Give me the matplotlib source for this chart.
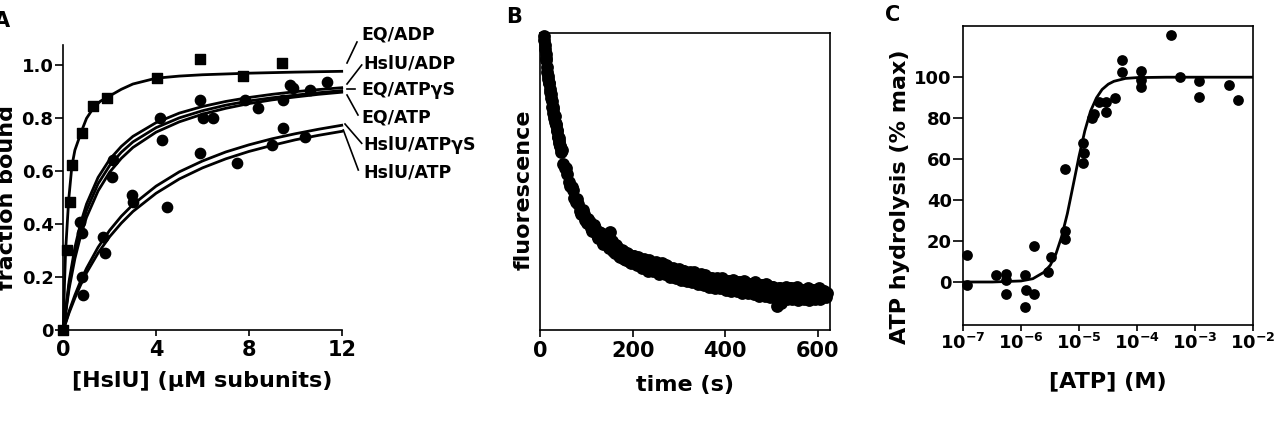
import matplotlib
matplotlib.use("Agg")
import matplotlib.pyplot as plt
from matplotlib.lines import Line2D

plt.rcParams['font.family'] = ['DejaVu Sans']
plt.rcParams['font.weight'] = 'bold'
plt.rcParams['mathtext.fontset'] = 'custom'
plt.rcParams['mathtext.rm'] = 'DejaVu Sans:bold'
plt.rcParams['mathtext.default'] = 'rm'

# ---------------- Panel A data ----------------
a_xticks = [0, 4, 8, 12]
a_yticks = [0, 0.2, 0.4, 0.6, 0.8, 1.0]
a_yticklabels = ['0', '0.2', '0.4', '0.6', '0.8', '1.0']

# fitted curves
fit_top_x = [0, 0.05, 0.1, 0.23, 0.37, 0.5, 0.8, 1.0, 1.3, 1.6, 1.9, 2.5, 3.0, 4.0, 5.0, 6.0, 8.0, 10.0, 12.0]
fit_eq_adp = [0, 0.17, 0.30, 0.49, 0.62, 0.68, 0.755, 0.80, 0.84, 0.865, 0.88, 0.91, 0.93, 0.952, 0.96, 0.965, 0.971, 0.975, 0.978]

fit_x = [0, 0.25, 0.5, 0.75, 1, 1.5, 2, 2.5, 3, 4, 5, 6, 7, 8, 9, 10, 11, 12]
fit_hslu_adp = [0, 0.185, 0.3125, 0.405, 0.476, 0.577, 0.645, 0.694, 0.732, 0.784, 0.82, 0.845, 0.864, 0.879, 0.891, 0.901, 0.909, 0.916]
fit_eq_atpgs = [0, 0.171, 0.293, 0.383, 0.452, 0.553, 0.622, 0.672, 0.711, 0.765, 0.802, 0.829, 0.850, 0.866, 0.878, 0.888, 0.897, 0.905]
fit_eq_atp = [0, 0.156, 0.27, 0.357, 0.426, 0.526, 0.597, 0.649, 0.69, 0.748, 0.787, 0.816, 0.838, 0.856, 0.87, 0.881, 0.891, 0.899]
fit_hslu_atpgs = [0, 0.071, 0.132, 0.186, 0.233, 0.313, 0.377, 0.430, 0.474, 0.544, 0.598, 0.639, 0.673, 0.700, 0.723, 0.742, 0.759, 0.774]
fit_hslu_atp = [0, 0.065, 0.121, 0.171, 0.216, 0.291, 0.353, 0.404, 0.448, 0.517, 0.571, 0.613, 0.647, 0.675, 0.698, 0.719, 0.736, 0.751]

# measured points
pts_top_x = [0, 0.14, 0.29, 0.36, 0.79, 1.29, 1.87, 4.02, 5.89, 7.76, 9.41]
pts_top_y = [0, 0.302, 0.485, 0.624, 0.744, 0.847, 0.878, 0.954, 1.023, 0.96, 1.008]
pts_mid_x = [0.72, 0.79, 2.08, 2.16, 4.17, 4.24, 5.89, 6.03, 6.47, 7.83, 8.41, 9.48, 9.77, 9.91, 10.63, 11.35]
pts_mid_y = [0.41, 0.365, 0.58, 0.643, 0.80, 0.718, 0.87, 0.80, 0.80, 0.87, 0.838, 0.87, 0.926, 0.914, 0.907, 0.939]
pts_low_x = [0.79, 0.86, 1.72, 1.80, 2.95, 3.02, 4.45, 5.89, 7.47, 8.98, 9.48, 10.42]
pts_low_y = [0.20, 0.132, 0.353, 0.29, 0.51, 0.485, 0.466, 0.668, 0.63, 0.70, 0.762, 0.731]

series_labels = ['EQ/ADP', 'HslU/ADP', 'EQ/ATPγS', 'EQ/ATP', 'HslU/ATPγS', 'HslU/ATP']

# ---------------- Panel B data ----------------
b_xticks = [0, 200, 400, 600]
time_s = [8, 14, 20, 26, 32, 38, 44, 50, 56, 62,
          68, 74, 80, 86, 92, 98, 104, 110, 116, 122,
          128, 134, 140, 146, 152, 158, 164, 170, 176, 182,
          188, 194, 200, 206, 212, 218, 224, 230, 236, 242,
          248, 254, 260, 266, 272, 278, 284, 290, 296, 302,
          308, 314, 320, 326, 332, 338, 344, 350, 356, 362,
          368, 374, 380, 386, 392, 398, 404, 410, 416, 422,
          428, 434, 440, 446, 452, 458, 464, 470, 476, 482,
          488, 494, 500, 506, 512, 518, 524, 530, 536, 542,
          548, 554, 560, 566, 572, 578, 584, 590, 596, 602,
          608, 614, 620]
fluor = [0.99, 0.91, 0.83, 0.75, 0.72, 0.65, 0.62, 0.56, 0.545, 0.50,
         0.48, 0.445, 0.44, 0.40, 0.405, 0.37, 0.375, 0.345, 0.355, 0.32,
         0.33, 0.30, 0.31, 0.285, 0.33, 0.265, 0.285, 0.25, 0.27, 0.24,
         0.26, 0.23, 0.25, 0.225, 0.245, 0.215, 0.24, 0.21, 0.235, 0.205,
         0.225, 0.20, 0.215, 0.195, 0.22, 0.185, 0.205, 0.18, 0.20, 0.175,
         0.20, 0.17, 0.19, 0.165, 0.195, 0.16, 0.18, 0.155, 0.185, 0.15,
         0.175, 0.145, 0.17, 0.15, 0.175, 0.14, 0.165, 0.145, 0.17, 0.135,
         0.16, 0.14, 0.165, 0.13, 0.155, 0.135, 0.16, 0.125, 0.15, 0.13,
         0.155, 0.12, 0.145, 0.125, 0.08, 0.14, 0.115, 0.145, 0.12, 0.14,
         0.11, 0.145, 0.12, 0.135, 0.115, 0.14, 0.12, 0.135, 0.115, 0.14,
         0.12, 0.13, 0.125]
time_s2 = [11, 17, 23, 29, 35, 41, 47, 53, 59, 65,
           71, 77, 83, 89, 95, 101, 107, 113, 119, 125,
           131, 137, 143, 149, 155, 161, 167, 173, 179, 185,
           191, 197, 203, 209, 215, 221, 227, 233, 239, 245,
           251, 257, 263, 269, 275, 281, 287, 293, 299, 305,
           311, 317, 323, 329, 335, 341, 347, 353, 359, 365,
           371, 377, 383, 389, 395, 401, 407, 413, 419, 425,
           431, 437, 443, 449, 455, 461, 467, 473, 479, 485,
           491, 497, 503, 509, 515, 521, 527, 533, 539, 545,
           551, 557, 563, 569, 575, 581, 587, 593, 599, 605,
           611, 617]
fluor2 = [0.945, 0.855, 0.795, 0.73, 0.695, 0.635, 0.605, 0.545, 0.525, 0.485,
          0.47, 0.43, 0.425, 0.39, 0.39, 0.36, 0.365, 0.335, 0.345, 0.31,
          0.325, 0.29, 0.305, 0.275, 0.30, 0.26, 0.28, 0.245, 0.265, 0.235,
          0.255, 0.225, 0.25, 0.22, 0.24, 0.21, 0.235, 0.20, 0.23, 0.20,
          0.23, 0.19, 0.225, 0.19, 0.215, 0.18, 0.21, 0.175, 0.205, 0.17,
          0.20, 0.165, 0.195, 0.16, 0.19, 0.155, 0.19, 0.15, 0.18, 0.145,
          0.175, 0.14, 0.175, 0.14, 0.17, 0.135, 0.165, 0.13, 0.165, 0.13,
          0.16, 0.125, 0.16, 0.125, 0.155, 0.12, 0.155, 0.115, 0.15, 0.115,
          0.15, 0.11, 0.145, 0.11, 0.14, 0.09, 0.135, 0.105, 0.14, 0.105,
          0.14, 0.10, 0.135, 0.105, 0.135, 0.10, 0.135, 0.105, 0.135, 0.105,
          0.13, 0.11]
time_s3 = [9, 10, 12, 13, 15, 16, 18, 19, 21, 22, 24, 25, 27, 28, 30, 31, 33, 34, 36, 37,
           39, 40, 42, 43, 45, 46]
fluor3 = [0.975, 0.96, 0.93, 0.915, 0.885, 0.87, 0.845, 0.83, 0.81, 0.80, 0.78, 0.77, 0.75, 0.745,
          0.725, 0.715, 0.70, 0.69, 0.675, 0.67, 0.65, 0.645, 0.63, 0.62, 0.61, 0.60]

# ---------------- Panel C data ----------------
c_xticks = [1e-7, 1e-6, 1e-5, 1e-4, 1e-3, 1e-2]
c_xticklabels = [r'$10^{-7}$', r'$10^{-6}$', r'$10^{-5}$', r'$10^{-4}$', r'$10^{-3}$', r'$10^{-2}$']
c_yticks = [0, 20, 40, 60, 80, 100]
atp_M = [1.15e-7, 1.15e-7, 3.7e-7, 5.5e-7, 5.5e-7, 5.5e-7, 1.15e-6, 1.15e-6, 1.23e-6,
         1.7e-6, 1.7e-6, 2.9e-6, 3.3e-6, 5.8e-6, 5.8e-6, 5.8e-6, 1.15e-5, 1.15e-5, 1.23e-5,
         1.7e-5, 1.8e-5, 2.2e-5, 2.9e-5, 2.9e-5, 4.1e-5, 5.6e-5, 5.6e-5, 1.15e-4, 1.15e-4,
         1.15e-4, 3.8e-4, 5.6e-4, 1.17e-3, 1.17e-3, 3.8e-3, 5.6e-3]
hydrolysis = [13, -1.6, 3.3, -5.7, 4.1, 0.8, 3.3, -12.2, -4.1,
              -5.7, 17.5, 4.9, 12.2, 55, 25, 21, 67.7, 58, 62.8,
              80, 82, 88, 83, 88, 89.7, 108.5, 102.3, 102.8, 98.7,
              95.4, 120.7, 100, 97.9, 90.5, 96.2, 88.9]
fit_atp_M = [1e-7, 3.2e-7, 1e-6, 1.6e-6, 2.5e-6, 3.2e-6, 4e-6, 5e-6, 6.3e-6, 7.9e-6,
             1e-5, 1.26e-5, 1.58e-5, 2e-5, 2.5e-5, 3.2e-5, 4e-5, 6.3e-5, 1e-4, 3.2e-4, 1e-3, 1e-2]
fit_hydrolysis = [0, 0, 0.5, 1.6, 4.8, 8.2, 13.7, 22, 33.4, 47,
                  61.3, 73.8, 83.4, 89.9, 94, 96.6, 98, 99.4, 99.8, 100, 100, 100]

# ---------------- Figure ----------------
W, H = 1276, 426
fig = plt.figure(figsize=(W / 100, H / 100), dpi=100)


def rect(l, t, r, b):
    return [l / W, 1 - b / H, (r - l) / W, (b - t) / H]


def fp(x, y):
    return x / W, 1 - y / H


tick_kw = dict(direction='out', width=1.2, colors='black')

# ---- Panel A ----
axA = fig.add_axes(rect(63.3, 45, 341.7, 330))
axA.set_xlim(0, 12)
axA.set_ylim(0, 1.0775)
for s in ['top', 'right']:
    axA.spines[s].set_visible(False)
for s in ['left', 'bottom']:
    axA.spines[s].set_linewidth(1.2)
axA.set_xticks(a_xticks)
axA.set_xticklabels([str(v) for v in a_xticks], fontsize=15, fontweight='bold')
axA.set_yticks(a_yticks)
axA.set_yticklabels(a_yticklabels, fontsize=13, fontweight='bold')
axA.tick_params(axis='x', length=4, pad=3, **tick_kw)
axA.tick_params(axis='y', length=6, pad=1, **tick_kw)

axA.plot(fit_top_x, fit_eq_adp, color='black', lw=2, clip_on=False)
for yy in [fit_hslu_adp, fit_eq_atpgs, fit_eq_atp, fit_hslu_atpgs, fit_hslu_atp]:
    axA.plot(fit_x, yy, color='black', lw=2, clip_on=False)
axA.scatter(pts_top_x, pts_top_y, marker='s', s=45, color='black', clip_on=False, zorder=3)
axA.scatter(pts_mid_x, pts_mid_y, marker='o', s=55, color='black', clip_on=False, zorder=3)
axA.scatter(pts_low_x, pts_low_y, marker='o', s=55, color='black', clip_on=False, zorder=3)
axA.set_xlabel('[HslU] (μM subunits)', fontsize=16, fontweight='bold', labelpad=8)

# labels + leader lines
label_pos = [(361.7, 35), (363, 63.5), (361.7, 90), (361.7, 117), (363, 145), (363, 172)]
for lab, (x, y) in zip(series_labels, label_pos):
    fig.text(*fp(x, y), lab, fontsize=12.5, fontweight='bold', ha='left', va='center')
leaders = [((347, 63), (357, 42)), ((347, 84), (361.7, 65)), ((347, 89.3), (355, 89.3)),
           ((347, 95), (358, 115)), ((345, 124), (361.7, 143.3)), ((343.3, 130), (358.3, 170))]
for (x0, y0), (x1, y1) in leaders:
    p0 = fp(x0, y0); p1 = fp(x1, y1)
    fig.add_artist(Line2D([p0[0], p1[0]], [p0[1], p1[1]], color='black', lw=1.2))

fig.text(*fp(2, 21), 'A', fontsize=15, fontweight='bold', ha='center', va='center')
fig.text(*fp(17, 197), 'fraction bound', fontsize=16, fontweight='bold', rotation=90,
         ha='right', va='center')

# ---- Panel B ----
axB = fig.add_axes(rect(540, 33, 830, 330))
axB.set_xlim(0, 626)
axB.set_ylim(0, 1)
for s in axB.spines.values():
    s.set_linewidth(1.2)
axB.set_xticks(b_xticks)
axB.set_xticklabels([str(v) for v in b_xticks], fontsize=15, fontweight='bold')
axB.set_yticks([])
axB.tick_params(axis='x', length=5, pad=3, **tick_kw)
for tt, ff in [(time_s, fluor), (time_s2, fluor2), (time_s3, fluor3)]:
    axB.scatter(tt, ff, s=85, color='black', linewidths=0, clip_on=False, zorder=3)
axB.set_xlabel('time (s)', fontsize=16, fontweight='bold', labelpad=10)
fig.text(*fp(514, 17), 'B', fontsize=15, fontweight='bold', ha='center', va='center')
fig.text(*fp(534, 190), 'fluorescence', fontsize=16, fontweight='bold', rotation=90,
         ha='right', va='center')

# ---- Panel C ----
axC = fig.add_axes(rect(963, 26, 1253, 325))
axC.set_xscale('log')
axC.set_xlim(1e-7, 1e-2)
axC.set_ylim(-21, 125)
for s in axC.spines.values():
    s.set_linewidth(1.2)
axC.set_xticks(c_xticks)
axC.set_xticklabels(c_xticklabels, fontsize=13)
axC.xaxis.set_minor_locator(matplotlib.ticker.NullLocator())
axC.set_yticks(c_yticks)
axC.set_yticklabels([str(v) for v in c_yticks], fontsize=13, fontweight='bold')
axC.tick_params(axis='x', length=4, pad=2, **tick_kw)
axC.tick_params(axis='y', length=7, pad=1, **tick_kw)
axC.plot(fit_atp_M, fit_hydrolysis, color='black', lw=2)
axC.scatter(atp_M, hydrolysis, s=60, color='black', linewidths=0, clip_on=False, zorder=3)
axC.set_xlabel('[ATP] (M)', fontsize=16, fontweight='bold', labelpad=13)
fig.text(*fp(893, 15), 'C', fontsize=15, fontweight='bold', ha='center', va='center')
fig.text(*fp(910, 197), 'ATP hydrolysis (% max)', fontsize=16, fontweight='bold', rotation=90,
         ha='right', va='center')

fig.savefig('out.png', dpi=100)
